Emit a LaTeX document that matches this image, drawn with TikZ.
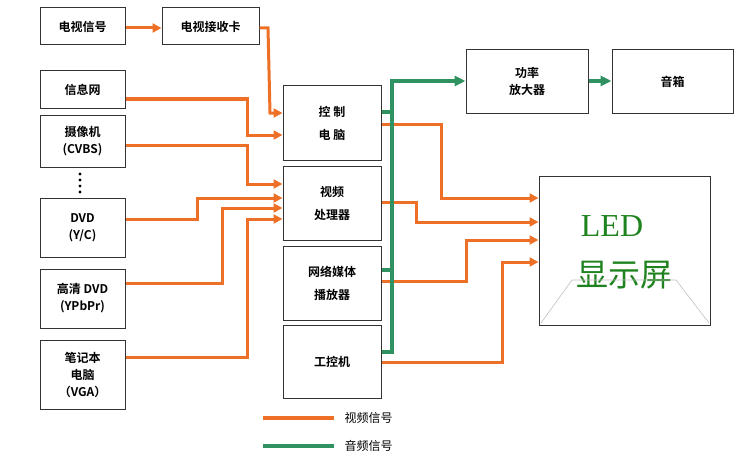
\documentclass[tikz,border=0pt]{standalone}
\usepackage{fontspec}
\setmainfont{Liberation Serif}
\newfontfamily\cjk{Noto Sans CJK SC}
\newfontfamily\cjkb{Noto Sans CJK SC Bold}
\usetikzlibrary{arrows.meta}
\definecolor{vor}{RGB}{237,112,38}
\definecolor{agr}{RGB}{48,146,96}
\definecolor{ledg}{RGB}{30,130,30}
\begin{document}
\begin{tikzpicture}[x=1pt,y=-1pt,
  box/.style={draw=black!80,line width=1pt,inner sep=0pt,align=center,font=\fontsize{12}{17}\selectfont\cjkb},
  vid/.style={draw=vor,line width=3pt,-{Triangle[length=9pt,width=9pt]}},
  aud/.style={draw=agr,line width=3.4pt},
  auda/.style={aud,-{Triangle[length=11pt,width=10pt]}}]
\useasboundingbox (0,0) rectangle (750,460);
\def\bx#1#2#3#4#5#6{\node[box,minimum width={#4-#2},minimum height={#5-#3}] (#1) at ({(#2+#4)/2},{(#3+#5)/2}) {#6};}
\bx{tv}{40}{8}{125}{45}{电视信号}
\bx{tvk}{162}{8}{259}{45}{电视接收卡}
\bx{xx}{40}{71}{125}{108}{信息网}
\bx{cam}{40}{115}{125}{167}{摄像机\\(CVBS)}
\bx{dvd}{40}{198}{125}{257}{DVD\\(Y/C)}
\bx{hd}{40}{269}{125}{328}{高清 DVD\\(YPbPr)}
\bx{nb}{40}{340}{125}{409}{笔记本\\电脑\\（VGA）}
\bx{kz}{283}{86}{381}{160}{控 制\\[6pt]电 脑}
\bx{sp}{283}{166}{381}{240}{视频\\[6pt]处理器}
\bx{wl}{283}{246}{381}{320}{网络媒体\\[6pt]播放器}
\bx{gk}{283}{325}{381}{398}{工控机}
\bx{gl}{466}{50}{588}{113}{功率\\放大器}
\bx{yx}{612}{50}{733}{113}{音箱}
\node[draw=black!80,line width=1pt,minimum width=171pt,minimum height=149pt,inner sep=0pt] (led) at (624.5,250.5) {};
\node[text=ledg,font=\fontsize{32}{36}\selectfont] (ledt) at (612,226) {LED};
\node[text=ledg,font=\fontsize{32}{36}\selectfont\cjk] (ledc) at (624,275) {显示屏};
\draw[black!25,line width=0.6pt] (541,323) -- (572,280) -- (676,280) -- (709,323);
\foreach \y in {174,180,186,192} \fill (80,\y) circle (1.6pt);
% video
\draw[vid] (tv.east |- 0,28) -- (tvk.west |- 0,28);
\draw[vid] (tvk.east |- 0,28) -- (268,28) -- (270,113) -- (kz.west |- 0,113);
\draw[vid] (xx.east |- 0,99) -- (247,99) -- (247,135) -- (kz.west |- 0,135);
\draw[vid] (cam.east |- 0,145) -- (247,145) -- (247,184) -- (sp.west |- 0,184);
\draw[vid] (dvd.east |- 0,219) -- (197,219) -- (197,198) -- (sp.west |- 0,198);
\draw[vid] (hd.east |- 0,283) -- (222,283) -- (222,208) -- (sp.west |- 0,208);
\draw[vid] (nb.east |- 0,357) -- (247,357) -- (247,219) -- (sp.west |- 0,219);
\draw[vid] (kz.east |- 0,124) -- (441,124) -- (441,198) -- (led.west |- 0,198);
\draw[vid] (sp.east |- 0,202) -- (416,202) -- (416,222) -- (led.west |- 0,222);
\draw[vid] (wl.east |- 0,281) -- (466,281) -- (466,240) -- (led.west |- 0,240);
\draw[vid] (gk.east |- 0,362) -- (502,362) -- (502,262) -- (led.west |- 0,262);
% audio
\draw[auda] (gk.east |- 0,352) -- (392,352) -- (392,81) -- (gl.west |- 0,81);
\draw[aud] (kz.east |- 0,112) -- (392,112);
\draw[aud] (wl.east |- 0,270) -- (392,270);
\draw[auda] (gl.east |- 0,81) -- (yx.west |- 0,81);
% legend
\coordinate (l1a) at (263,418); \coordinate (l1b) at (334,418);
\coordinate (l2a) at (263,446); \coordinate (l2b) at (334,446);
\draw[vor,line width=3.2pt] (l1a) -- (l1b);
\draw[agr,line width=3.2pt] (l2a) -- (l2b);
\node[anchor=west,font=\fontsize{12}{14}\selectfont\cjk] (lt1) at (341,418) {视频信号};
\node[anchor=west,font=\fontsize{12}{14}\selectfont\cjk] (lt2) at (341,446) {音频信号};
\end{tikzpicture}
\end{document}
